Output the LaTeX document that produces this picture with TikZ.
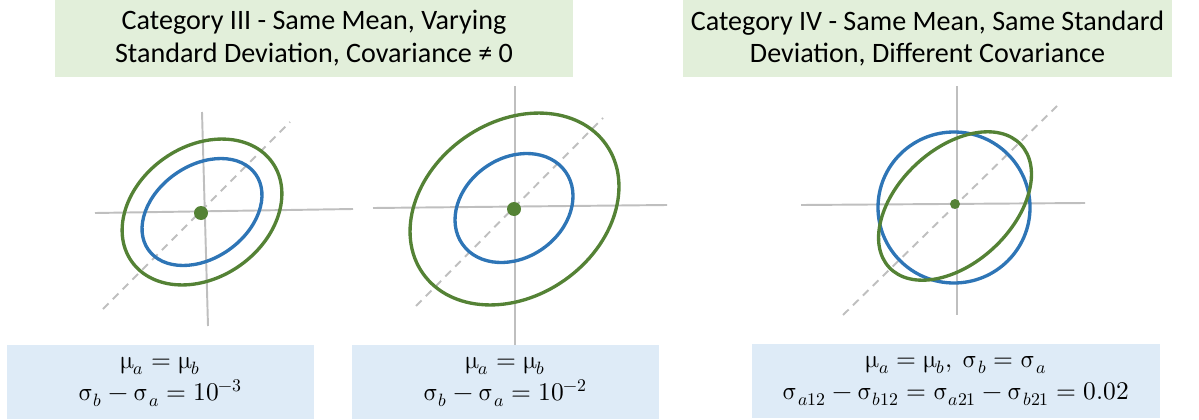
\documentclass[tikz,border=0pt]{standalone}
\usepackage{fontspec}
\usepackage{unicode-math}
\setmainfont{Carlito}
\setmathfont{Latin Modern Math}
\usetikzlibrary{positioning}
\definecolor{titlegreen}{HTML}{E2EFDA}
\definecolor{infoblue}{HTML}{DEEBF7}
\definecolor{curveblue}{HTML}{2E75B6}
\definecolor{curvegreen}{HTML}{548235}
\definecolor{axisgray}{HTML}{BFBFBF}

\begin{document}
\begin{tikzpicture}[x=0.02cm, y=-0.02cm,
      font=\fontsize{16}{18.7}\selectfont,
      title/.style={fill=titlegreen, align=center, minimum height=1.54cm, inner sep=0pt},
      info/.style={fill=infoblue, align=center, minimum height=1.48cm, inner sep=0pt,
                   font=\fontsize{14.5}{18.5}\selectfont},
      axis/.style={draw=axisgray, line width=1.1pt},
      diag/.style={draw=axisgray, line width=1.1pt, dash pattern=on 4.5pt off 3.4pt},
      ringb/.style={draw=curveblue, line width=1.9pt},
      ringg/.style={draw=curvegreen, line width=1.9pt},
      dot/.style={circle, fill=curvegreen, inner sep=0pt, minimum size=#1},
    ]
    \useasboundingbox (0,0) rectangle (1199,419);
    % headers
    \node[title, minimum width=10.36cm] (hd3) at (314,38.5)
      {Category III - Same Mean, Varying\\Standard Deviation, Covariance ≠ 0};
    \node[title, minimum width=9.78cm] (hd4) at (927.5,38.5)
      {Category IV - Same Mean, Same Standard\\Deviation, Different Covariance};
    % plot 1
    \draw[axis] (95,213) -- (353,209);
    \draw[axis] (202,112) -- (208,326);
    \draw[diag] (103,309) -- (290,122);
    \draw[ringg, rotate around={35:(202,212)}] (202,212) ellipse [x radius=86, y radius=65.6];
    \draw[ringb, rotate around={35:(202,212)}] (202,212) ellipse [x radius=65.6, y radius=46.4];
    \node[dot=0.28cm] (m1) at (201,213) {};
    % plot 2
    \draw[axis] (373,208) -- (667,205);
    \draw[axis] (515,86) -- (515,345);
    \draw[diag] (416,306) -- (603,118);
    \draw[ringg, rotate around={35:(514.5,209)}] (514.5,209) ellipse [x radius=112, y radius=87];
    \draw[ringb, rotate around={35:(514,208)}] (514,208) ellipse [x radius=63, y radius=49.8];
    \node[dot=0.28cm] (m2) at (514,209) {};
    % plot 3
    \draw[axis] (801,205) -- (1085,203);
    \draw[axis] (957,86) -- (957,315);
    \draw[diag] (843,315) -- (1057,106);
    \draw[ringb] (954,207.5) ellipse [x radius=76, y radius=75.5];
    \draw[ringg, rotate around={43:(955,206)}] (955,206) ellipse [x radius=90, y radius=57];
    \node[dot=0.2cm] (m3) at (955,204) {};
    % conditions
    \node[info, minimum width=6.14cm] (c1) at (160.5,382)
      {$\upmu_a = \upmu_b$\\$\upsigma_b - \upsigma_a = 10^{-3}$};
    \node[info, minimum width=6.14cm] (c2) at (505.5,382)
      {$\upmu_a = \upmu_b$\\$\upsigma_b - \upsigma_a = 10^{-2}$};
    \node[info, minimum width=8.16cm] (c3) at (956,381)
      {$\upmu_a = \upmu_b,\ \upsigma_b = \upsigma_a$\\
       $\upsigma_{a12} - \upsigma_{b12} = \upsigma_{a21} - \upsigma_{b21} = 0.02$};
  \end{tikzpicture}
\end{document}
